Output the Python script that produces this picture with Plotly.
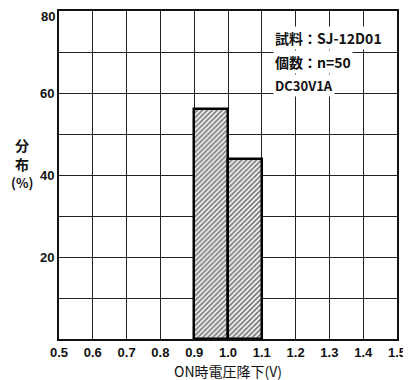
import plotly.graph_objects as go

bin_left = [0.9, 1.0]
bin_width = 0.1
distribution = [56, 44]
x_tick_vals = [0.5, 0.6, 0.7, 0.8, 0.9, 1.0, 1.1, 1.2, 1.3, 1.4, 1.5]
x_tick_text = ["0.5", "0.6", "0.7", "0.8", "0.9", "1.0", "1.1", "1.2", "1.3", "1.4", "1.5"]
y_tick_vals = [10, 20, 30, 40, 50, 60, 70]
y_tick_text = ["", "20", "", "40", "", "60", ""]
y_top_label = "80"
info_lines = ["試料：SJ-12D01", "個数：n=50", "DC30V1A"]
y_title_lines = ["分", "布", "(%)"]
x_title = "ON時電圧降下(V)"

font_cjk = "Noto Sans CJK JP, Liberation Sans, sans-serif"
font_num = "Liberation Sans, Arial"

fig = go.Figure()
fig.add_trace(go.Bar(
    x=[b + bin_width / 2 for b in bin_left],
    y=distribution,
    width=bin_width,
    marker=dict(
        color="white",
        line=dict(color="black", width=2.5),
        pattern=dict(shape="/", fgcolor="black", bgcolor="white", size=3.5, solidity=0.55),
    ),
    showlegend=False,
))

# the page body adds an 8px offset, so the figure is sized to fit inside the window
fig.update_layout(
    width=403, height=372,
    margin=dict(l=51, r=14, t=3, b=41, autoexpand=False),
    paper_bgcolor="white", plot_bgcolor="white",
    font=dict(family=font_cjk, color="#111", size=12),
    bargap=0,
)
fig.update_xaxes(
    range=[0.5, 1.5], tickvals=x_tick_vals, ticktext=x_tick_text,
    showgrid=True, gridcolor="#222", gridwidth=1,
    showline=True, linecolor="#111", linewidth=2, mirror=True,
    ticks="", automargin=False,
    tickfont=dict(size=13, family=font_num, weight="bold"),
    zeroline=False,
)
fig.update_yaxes(
    range=[0, 80], tickvals=y_tick_vals, ticktext=y_tick_text,
    showgrid=True, gridcolor="#222", gridwidth=1,
    showline=True, linecolor="#111", linewidth=2, mirror=True,
    ticks="", automargin=False,
    tickfont=dict(size=13, family=font_num, weight="bold"),
    zeroline=False,
)
fig.add_annotation(
    xref="paper", yref="paper", x=0, y=1, xanchor="right", yanchor="top",
    xshift=-2, yshift=4,
    text=y_top_label, showarrow=False, font=dict(size=13, family=font_num, weight="bold"),
)
fig.add_annotation(
    xref="paper", yref="paper", x=0.5, y=-0.098, xanchor="center", yanchor="middle",
    text=x_title, showarrow=False, font=dict(size=14, family=font_cjk),
)
for i, t in enumerate(y_title_lines):
    fig.add_annotation(
        xref="paper", yref="paper", x=-0.108, y=0.59 - i * 0.057, xanchor="center", yanchor="middle",
        text=t, showarrow=False, font=dict(size=14 if i < 2 else 13, family=font_cjk, weight="bold"),
    )
for i, line in enumerate(info_lines):
    fig.add_annotation(
        xref="paper", yref="paper", x=0.633, y=0.918 - i * 0.072,
        xanchor="left", yanchor="middle", text=line, showarrow=False,
        font=dict(size=14 if i < 2 else 13, family=font_cjk, weight="bold"),
        bgcolor="white",
    )

fig.write_html("out.html")
